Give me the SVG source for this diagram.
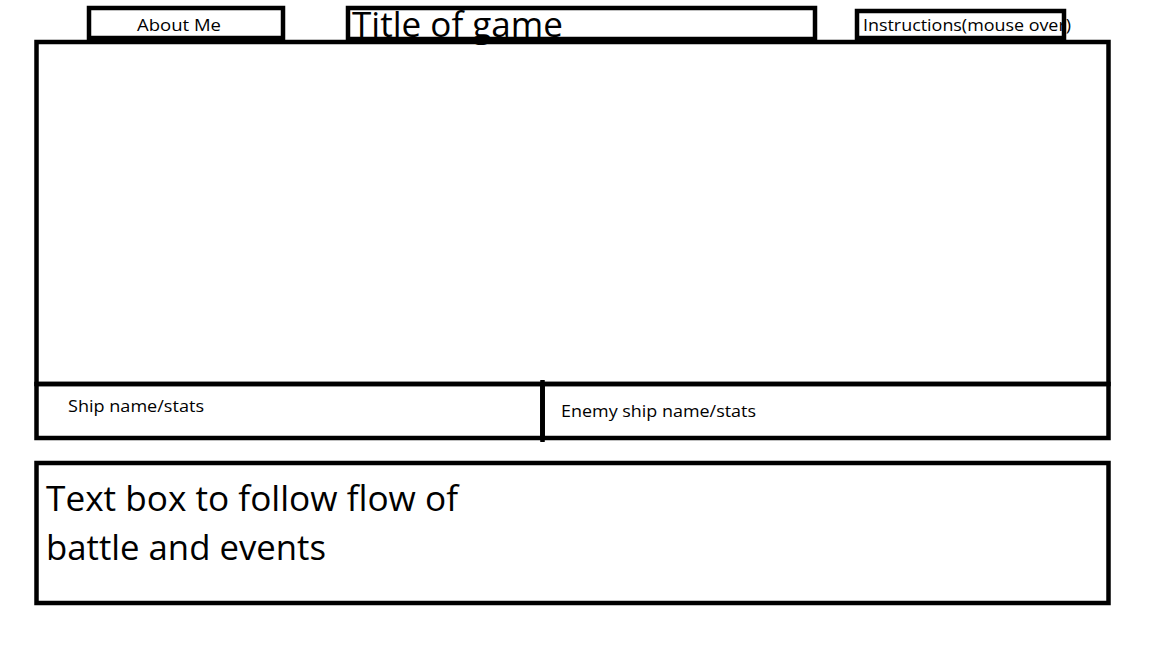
<svg xmlns="http://www.w3.org/2000/svg" width="1152" height="648" viewBox="0 0 1152 648">
<style>
.box{fill:none;stroke:#000;stroke-width:4.5}
.s{font-family:"Open Sans","Noto Sans",sans-serif;font-size:17px;fill:#000}
.l{font-family:"Open Sans","Noto Sans",sans-serif;font-size:34px;fill:#000}
</style>
<rect width="1152" height="648" fill="#fff"/>
<g id="main">
<rect class="box" x="36.5" y="42" width="1072" height="342"/>
</g>
<g id="about">
<rect x="89" y="8" width="194" height="30" fill="#fff"/>
<rect class="box" x="89" y="8" width="194" height="30"/>
<text class="s" x="137" y="31" textLength="84" lengthAdjust="spacingAndGlyphs">About Me</text>
</g>
<g id="title">
<rect x="348" y="8" width="467" height="31" fill="#fff"/>
<text class="l" x="352" y="37" textLength="211" lengthAdjust="spacingAndGlyphs">Title of game</text>
<rect class="box" x="348" y="8" width="467" height="31"/>
</g>
<g id="instructions">
<rect x="857" y="11" width="207" height="27" fill="#fff"/>
<text class="s" x="863" y="31" textLength="208" lengthAdjust="spacingAndGlyphs">Instructions(mouse over)</text>
<rect class="box" x="857" y="11" width="207" height="27"/>
</g>
<g id="ship">
<rect class="box" x="36.5" y="384" width="506" height="54"/>
<text class="s" x="68" y="412" textLength="136" lengthAdjust="spacingAndGlyphs">Ship name/stats</text>
</g>
<g id="enemy">
<rect class="box" x="542.5" y="384" width="566" height="54"/>
<line x1="542.5" y1="380" x2="542.5" y2="442" stroke="#000" stroke-width="4.5"/>
<text class="s" x="561" y="417" textLength="195" lengthAdjust="spacingAndGlyphs">Enemy ship name/stats</text>
</g>
<g id="textbox">
<rect class="box" x="36.5" y="463" width="1072" height="140"/>
<text class="l" x="46" y="511" textLength="412" lengthAdjust="spacingAndGlyphs">Text box to follow flow of</text>
<text class="l" x="46" y="560" textLength="280" lengthAdjust="spacingAndGlyphs">battle and events</text>
</g>
<g id="connectors"/>
</svg>
